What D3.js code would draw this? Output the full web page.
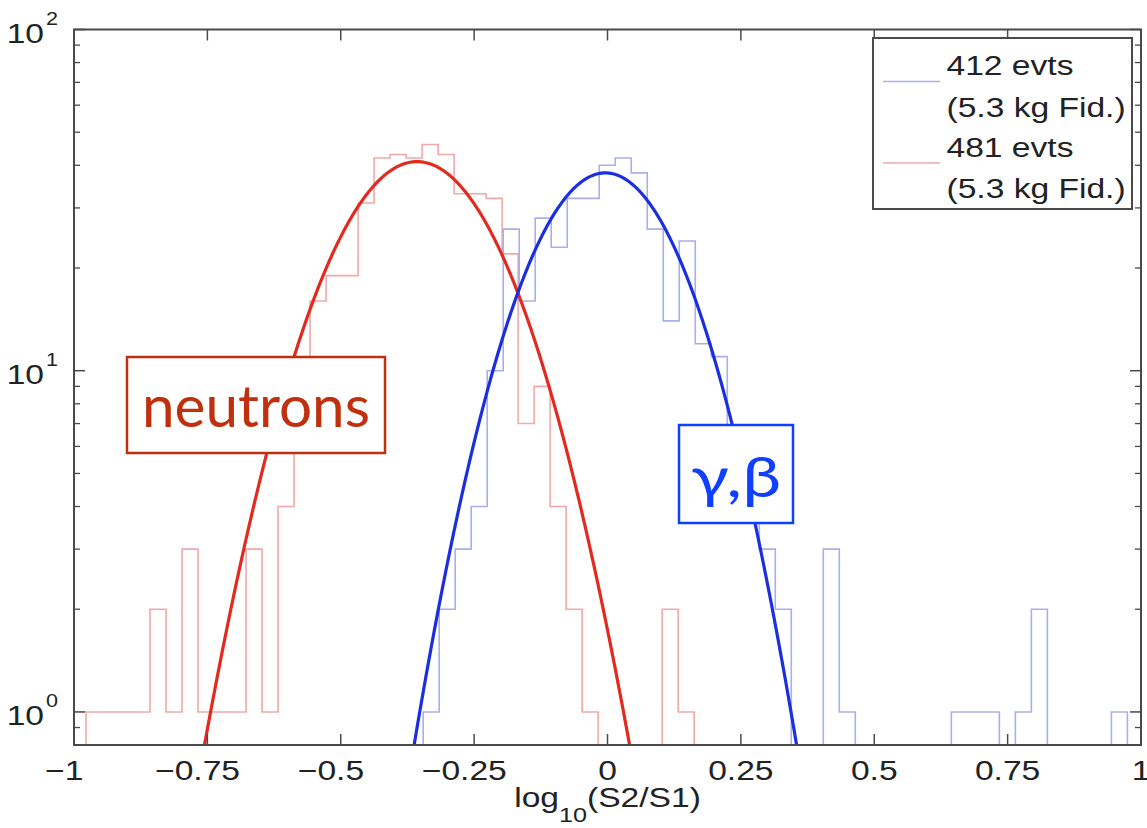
<!DOCTYPE html>
<html>
<head>
<meta charset="utf-8">
<script src="https://cdn.jsdelivr.net/npm/d3@7"></script>
<style>
  html, body { margin: 0; padding: 0; background: #fff; }
  svg { display: block; }
</style>
</head>
<body>
<svg id="chart" width="1147" height="828"></svg>
<script>
// ---- histogram data: log10(S2/S1), fixed-width bins ----
const binWidth = 0.03;

// neutron calibration (481 events), first bin left edge
const neutronStart = -0.9775;
const neutronCounts = [1, 1, 1, 1, 2, 1, 3, 1, 1, 1, 3, 1, 4, 10, 16, 19, 19, 31, 42, 43,
                       42, 46, 43, 33, 33, 32, 22, 7, 9, 4, 2, 1, 0, 0, 0, 0, 2, 1];

// gamma / beta calibration (412 events), first bin left edge
const gammaStart = -0.3455;
const gammaCounts = [1, 2, 3, 4, 10, 26, 16, 28, 23, 32, 32, 40, 42, 38, 26, 14, 24, 12, 11, 6,
                     5, 3, 2, 0, 0, 3, 1, 0, 0, 0, 0, 0, 0, 1, 1, 1, 0, 1, 2, 0,
                     0, 0, 0, 1];

// Gaussian fits: [amplitude, mean, sigma]
const neutronFit = [41, -0.357, 0.142];
const gammaFit = [38, -0.004, 0.129];

// axes
const xTicks = [-1, -0.75, -0.5, -0.25, 0, 0.25, 0.5, 0.75, 1];
const xTickLabels = ["\u22121", "\u22120.75", "\u22120.5", "\u22120.25", "0", "0.25", "0.5", "0.75", "1"];
const yDecades = [1, 10, 100];
const yDecadeExponents = ["0", "1", "2"];
const yMinor = [0.9, 2, 3, 4, 5, 6, 7, 8, 9, 20, 30, 40, 50, 60, 70, 80, 90];

// legend
const legendLabels = ["412 evts", "(5.3 kg Fid.)", "481 evts", "(5.3 kg Fid.)"];

// ---- layout ----
const W = 1147, H = 828;
const plot = { left: 74, right: 1141, top: 29.5, bottom: 745 };
const sx = 1.2; // horizontal stretch of the axis lettering

const svg = d3.select("#chart");
svg.append("rect").attr("width", W).attr("height", H).attr("fill", "#fff");

const x = d3.scaleLinear().domain([-1, 1]).range([plot.left, plot.right]);
const y = d3.scaleLog().domain([0.8, 100]).range([plot.bottom, plot.top]);

const AXIS = "#4a4a4a";
const FONT = "'Liberation Sans', Arial, Helvetica, sans-serif";

svg.append("defs").append("clipPath").attr("id", "plotClip")
  .append("rect")
  .attr("x", plot.left).attr("y", plot.top)
  .attr("width", plot.right - plot.left).attr("height", plot.bottom - plot.top);

const layer = svg.append("g").attr("clip-path", "url(#plotClip)");

// ---- histograms as step outlines ----
const FLOOR = 0.3;
function stepPoints(start, counts) {
  const pts = [[start, FLOOR]];
  counts.forEach((c, i) => {
    const v = c > 0 ? c : FLOOR;
    pts.push([start + i * binWidth, v], [start + (i + 1) * binWidth, v]);
  });
  pts.push([start + counts.length * binWidth, FLOOR]);
  return pts;
}
const line = d3.line().x(d => x(d[0])).y(d => y(d[1]));

layer.append("path")
  .attr("d", line(stepPoints(neutronStart, neutronCounts)))
  .attr("fill", "none").attr("stroke", "#f2a8a8").attr("stroke-width", 1.6);
layer.append("path")
  .attr("d", line(stepPoints(gammaStart, gammaCounts)))
  .attr("fill", "none").attr("stroke", "#a9aeec").attr("stroke-width", 1.6);

// ---- Gaussian fit curves ----
function gauss(p) {
  const [a, m, s] = p;
  const xs = d3.range(-1, 1.0005, 0.002);
  return xs.map(v => [v, Math.max(a * Math.exp(-((v - m) ** 2) / (2 * s * s)), 0.05)]);
}
layer.append("path")
  .attr("d", line(gauss(neutronFit)))
  .attr("fill", "none").attr("stroke", "#e32a1f").attr("stroke-width", 3.2);
layer.append("path")
  .attr("d", line(gauss(gammaFit)))
  .attr("fill", "none").attr("stroke", "#1c2fde").attr("stroke-width", 3.2);

// ---- axes box and ticks ----
const ax = svg.append("g");
ax.append("rect")
  .attr("x", plot.left).attr("y", plot.top)
  .attr("width", plot.right - plot.left).attr("height", plot.bottom - plot.top)
  .attr("fill", "none").attr("stroke", AXIS).attr("stroke-width", 2);

const majorLen = 11, minorLen = 6;
xTicks.forEach(t => {
  const px = x(t);
  ax.append("line").attr("x1", px).attr("x2", px)
    .attr("y1", plot.bottom).attr("y2", plot.bottom - majorLen)
    .attr("stroke", AXIS).attr("stroke-width", 1.5);
  ax.append("line").attr("x1", px).attr("x2", px)
    .attr("y1", plot.top).attr("y2", plot.top + majorLen)
    .attr("stroke", AXIS).attr("stroke-width", 1.5);
});
yDecades.forEach(t => {
  const py = y(t);
  ax.append("line").attr("x1", plot.left).attr("x2", plot.left + majorLen)
    .attr("y1", py).attr("y2", py).attr("stroke", AXIS).attr("stroke-width", 1.5);
  ax.append("line").attr("x1", plot.right).attr("x2", plot.right - majorLen)
    .attr("y1", py).attr("y2", py).attr("stroke", AXIS).attr("stroke-width", 1.5);
});
yMinor.forEach(t => {
  const py = y(t);
  ax.append("line").attr("x1", plot.left).attr("x2", plot.left + minorLen)
    .attr("y1", py).attr("y2", py).attr("stroke", AXIS).attr("stroke-width", 1.3);
  ax.append("line").attr("x1", plot.right).attr("x2", plot.right - minorLen)
    .attr("y1", py).attr("y2", py).attr("stroke", AXIS).attr("stroke-width", 1.3);
});

// ---- lettering helper (stretched horizontally) ----
function label(g, px, py, str, size, anchor, color) {
  return g.append("text")
    .attr("transform", `translate(${px},${py}) scale(${sx},1)`)
    .attr("text-anchor", anchor || "start")
    .attr("font-family", FONT)
    .attr("font-size", size)
    .attr("fill", color || "#222")
    .text(str);
}

// x tick labels: the number is centred on the tick, a minus hangs to its left
const tickLabelY = 780;
xTicks.forEach((t, i) => {
  const s = xTickLabels[i];
  const neg = s.startsWith("\u2212");
  const num = neg ? s.slice(1) : s;
  const tNum = label(ax, x(t), tickLabelY, num, 28, "middle");
  if (neg) {
    const w = tNum.node().getComputedTextLength() * sx;
    label(ax, x(t) - w / 2, tickLabelY, "\u2212", 28, "end");
  }
});

// y tick labels: 10 with superscript exponent
yDecades.forEach((t, i) => {
  const py = y(t);
  label(ax, 44, py + 13, "10", 28, "end");
  label(ax, 46, py - 5, yDecadeExponents[i], 18, "start");
});

// x axis title: log10(S2/S1)
const title = ax.append("text")
  .attr("transform", `translate(${(plot.left + plot.right) / 2},807) scale(${sx},1)`)
  .attr("text-anchor", "middle")
  .attr("font-family", FONT)
  .attr("fill", "#222");
title.append("tspan").attr("font-size", 28).text("log");
title.append("tspan").attr("font-size", 21).attr("dy", 15).text("10");
title.append("tspan").attr("font-size", 28).attr("dy", -15).text("(S2/S1)");

// ---- legend ----
const lg = svg.append("g");
lg.append("rect").attr("x", 873).attr("y", 38).attr("width", 259).attr("height", 171)
  .attr("fill", "#fff").attr("stroke", AXIS).attr("stroke-width", 2);
lg.append("line").attr("x1", 883).attr("x2", 940).attr("y1", 81.5).attr("y2", 81.5)
  .attr("stroke", "#a9aeec").attr("stroke-width", 1.6);
lg.append("line").attr("x1", 883).attr("x2", 940).attr("y1", 163).attr("y2", 163)
  .attr("stroke", "#f2a8a8").attr("stroke-width", 1.6);
const legendBaselines = [75, 116.5, 156.5, 198];
legendLabels.forEach((s, i) => label(lg, 946.5, legendBaselines[i], s, 28, "start"));

// ---- annotation boxes ----
const ann = svg.append("g");
ann.append("rect").attr("x", 127).attr("y", 357).attr("width", 258).attr("height", 96)
  .attr("fill", "#fff").attr("stroke", "#c0300e").attr("stroke-width", 2.5);
ann.append("text")
  .attr("x", 256).attr("y", 427)
  .attr("text-anchor", "middle")
  .attr("font-family", "Lato, 'Open Sans', sans-serif")
  .attr("font-size", 58)
  .attr("fill", "#c0300e")
  .attr("textLength", 228).attr("lengthAdjust", "spacingAndGlyphs")
  .text("neutrons");

ann.append("rect").attr("x", 679).attr("y", 425).attr("width", 114).attr("height", 98)
  .attr("fill", "#fff").attr("stroke", "#1040ff").attr("stroke-width", 2.5);
ann.append("text")
  .attr("x", 736).attr("y", 497)
  .attr("text-anchor", "middle")
  .attr("font-family", "Lato, 'Open Sans', sans-serif")
  .attr("font-size", 56)
  .attr("fill", "#1040ff")
  .attr("textLength", 90).attr("lengthAdjust", "spacingAndGlyphs")
  .text("\u03b3,\u03b2");
</script>
</body>
</html>
